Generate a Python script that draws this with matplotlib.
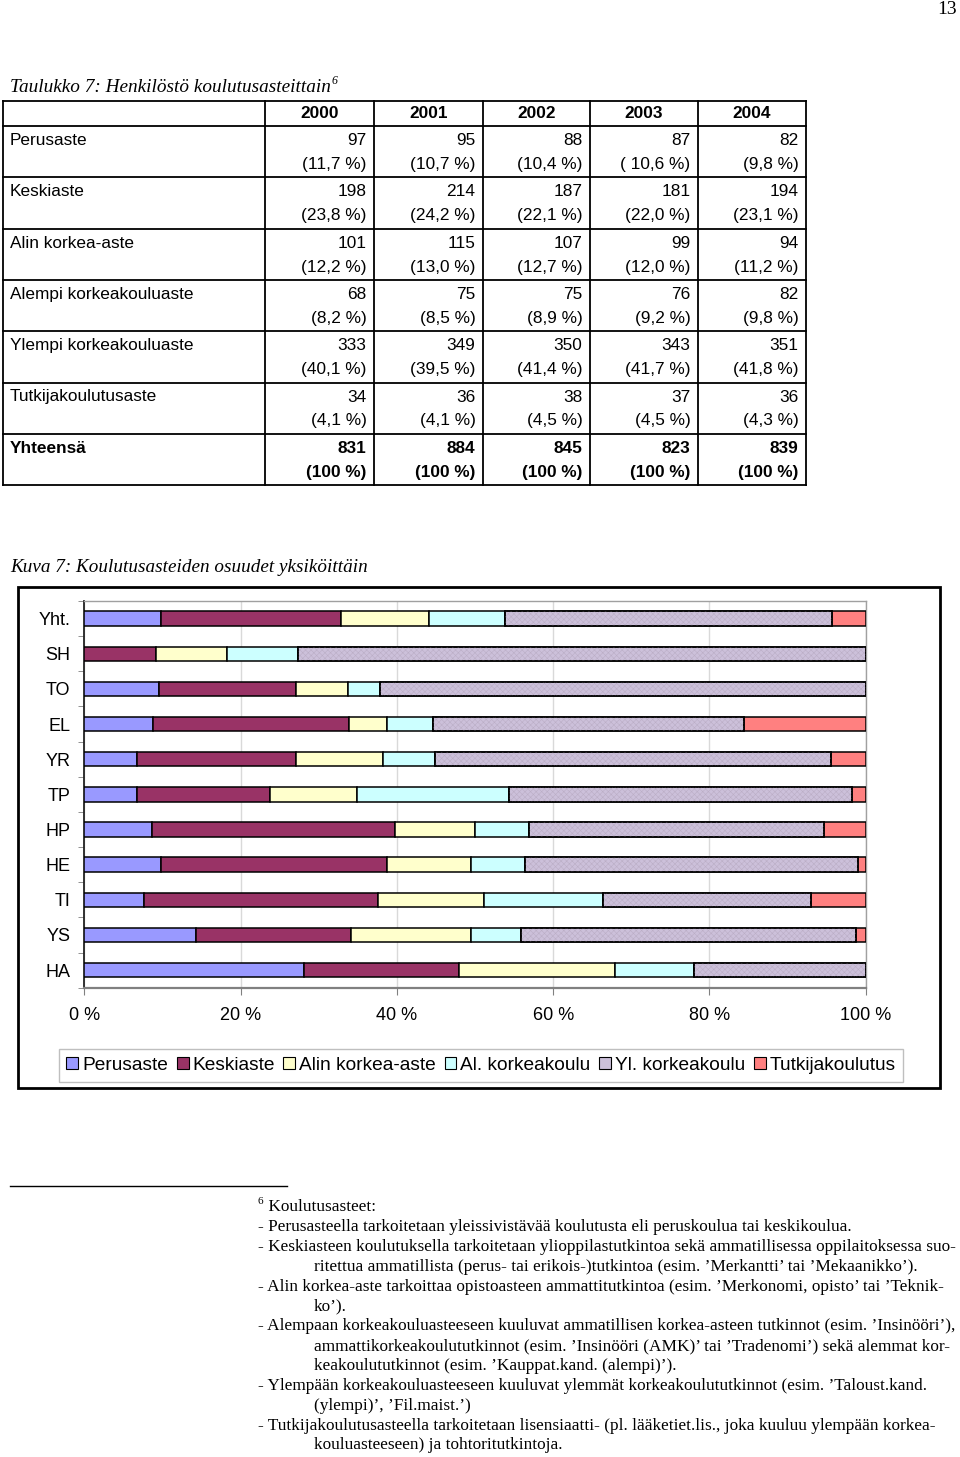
import numpy as np
import matplotlib.pyplot as plt
from matplotlib.patches import Patch, Rectangle

plt.rcParams['font.family'] = ['Liberation Sans', 'DejaVu Sans']
plt.rcParams['hatch.linewidth'] = 0.4

SERIF = ['Liberation Serif', 'DejaVu Serif']

# Taulukko 7
vuodet = ['2000', '2001', '2002', '2003', '2004']
rivit = ['Perusaste', 'Keskiaste', 'Alin korkea-aste', 'Alempi korkeakouluaste',
         'Ylempi korkeakouluaste', 'Tutkijakoulutusaste', 'Yhteensä']
lkm = [[97, 95, 88, 87, 82],
       [198, 214, 187, 181, 194],
       [101, 115, 107, 99, 94],
       [68, 75, 75, 76, 82],
       [333, 349, 350, 343, 351],
       [34, 36, 38, 37, 36],
       [831, 884, 845, 823, 839]]
osuus = [['(11,7 %)', '(10,7 %)', '(10,4 %)', '( 10,6 %)', '(9,8 %)'],
         ['(23,8 %)', '(24,2 %)', '(22,1 %)', '(22,0 %)', '(23,1 %)'],
         ['(12,2 %)', '(13,0 %)', '(12,7 %)', '(12,0 %)', '(11,2 %)'],
         ['(8,2 %)', '(8,5 %)', '(8,9 %)', '(9,2 %)', '(9,8 %)'],
         ['(40,1 %)', '(39,5 %)', '(41,4 %)', '(41,7 %)', '(41,8 %)'],
         ['(4,1 %)', '(4,1 %)', '(4,5 %)', '(4,5 %)', '(4,3 %)'],
         ['(100 %)', '(100 %)', '(100 %)', '(100 %)', '(100 %)']]

# Kuva 7
yksikot = ['Yht.', 'SH', 'TO', 'EL', 'YR', 'TP', 'HP', 'HE', 'TI', 'YS', 'HA']
sarjat = ['Perusaste', 'Keskiaste', 'Alin korkea-aste', 'Al. korkeakoulu',
          'Yl. korkeakoulu', 'Tutkijakoulutus']
perus = [9.8, 0, 9.6, 8.8, 6.8, 6.8, 8.7, 9.8, 7.7, 14.3, 28.1]
kesk = [23.1, 9.2, 17.5, 25.1, 20.3, 17.0, 31.1, 29.0, 29.9, 19.9, 19.8]
alin = [11.2, 9.0, 6.7, 4.8, 11.1, 11.1, 10.2, 10.7, 13.6, 15.3, 20.0]
alkk = [9.8, 9.2, 4.1, 5.9, 6.7, 19.5, 6.9, 6.9, 15.3, 6.5, 10.1]
ylkk = [41.8, 72.6, 62.2, 39.8, 50.5, 43.9, 37.8, 42.7, 26.6, 42.9, 21.9]
tutk = [4.3, 0, 0, 15.5, 4.5, 1.7, 5.3, 1.0, 7.0, 1.2, 0]
varit = ['#9999FF', '#993366', '#FFFFCC', '#CCFFFF', '#CCC0DA', '#FF8080']

alaviite = [
    (258, '- Perusasteella tarkoitetaan yleissivistävää koulutusta eli peruskoulua tai keskikoulua.'),
    (258, '- Keskiasteen koulutuksella tarkoitetaan ylioppilastutkintoa sekä ammatillisessa oppilaitoksessa suo-'),
    (314, 'ritettua ammatillista (perus- tai erikois-)tutkintoa (esim. ’Merkantti’ tai ’Mekaanikko’).'),
    (258, '- Alin korkea-aste tarkoittaa opistoasteen ammattitutkintoa (esim. ’Merkonomi, opisto’ tai ’Teknik-'),
    (314, 'ko’).'),
    (258, '- Alempaan korkeakouluasteeseen kuuluvat ammatillisen korkea-asteen tutkinnot (esim. ’Insinööri’),'),
    (314, 'ammattikorkeakoulututkinnot (esim. ’Insinööri (AMK)’ tai ’Tradenomi’) sekä alemmat kor-'),
    (314, 'keakoulututkinnot (esim. ’Kauppat.kand. (alempi)’).'),
    (258, '- Ylempään korkeakouluasteeseen kuuluvat ylemmät korkeakoulututkinnot (esim. ’Taloust.kand.'),
    (314, '(ylempi)’, ’Fil.maist.’)'),
    (258, '- Tutkijakoulutusasteella tarkoitetaan lisensiaatti- (pl. lääketiet.lis., joka kuuluu ylempään korkea-'),
    (314, 'kouluasteeseen) ja tohtoritutkintoja.'),
]

fig = plt.figure(figsize=(9.6, 14.57), dpi=100)
sivu = fig.add_axes([0, 0, 1, 1])
sivu.set_xlim(0, 960)
sivu.set_ylim(1457, 0)
sivu.axis('off')

sivu.text(957, 10, '13', ha='right', va='center', family=SERIF, fontsize=14)

# taulukko
sivu.text(10, 88, 'Taulukko 7: Henkilöstö koulutusasteittain', family=SERIF,
          style='italic', fontsize=13.9, va='center')
sivu.text(332, 81, '6', family=SERIF, style='italic', fontsize=8.5, va='center')

sx = [3, 265, 374, 483, 590, 698, 806]
sy = [101, 126] + [126 + 51.3 * (i + 1) for i in range(len(rivit))]
for y in sy:
    sivu.plot([sx[0], sx[-1]], [y, y], color='black', lw=1.3)
for x in sx:
    sivu.plot([x, x], [sy[0], sy[-1]], color='black', lw=1.3)

fs = 12.4
for j, v in enumerate(vuodet):
    sivu.text((sx[j + 1] + sx[j + 2]) / 2, 113.5, v, ha='center', va='center',
              fontsize=fs, fontweight='bold')
for i, r in enumerate(rivit):
    top = sy[i + 1]
    paino = 'bold' if r == 'Yhteensä' else 'normal'
    sivu.text(10, top + 14.5, r, va='center', fontsize=fs, fontweight=paino)
    for j in range(len(vuodet)):
        xr = sx[j + 2] - 7.5
        sivu.text(xr, top + 14.5, str(lkm[i][j]), ha='right', va='center',
                  fontsize=fs, fontweight=paino)
        sivu.text(xr, top + 38.5, osuus[i][j], ha='right', va='center',
                  fontsize=fs, fontweight=paino)

# kuva
sivu.text(10, 568, 'Kuva 7: Koulutusasteiden osuudet yksiköittäin', family=SERIF,
          style='italic', fontsize=13.8, va='center')
sivu.add_patch(Rectangle((18, 587), 922, 501, fill=False, lw=2, edgecolor='black'))

ax = fig.add_axes([84.3 / 960, 1 - 987.7 / 1457, (865.7 - 84.3) / 960, (987.7 - 601) / 1457])
ax.set_zorder(2)

arvot = np.array([perus, kesk, alin, alkk, ylkk, tutk], dtype=float)
arvot = arvot / arvot.sum(axis=0) * 100
y = np.arange(len(yksikot))
vasen = np.zeros(len(yksikot))
for i, nimi in enumerate(sarjat):
    ax.barh(y, arvot[i], left=vasen, height=0.41, color=varit[i],
            edgecolor='black', lw=1.1, zorder=3)
    if i == 4:
        ax.barh(y, arvot[i], left=vasen, height=0.41, fill=False,
                edgecolor='#BBAEC6', lw=0, hatch='xxxxxx', zorder=3.5)
        ax.barh(y, arvot[i], left=vasen, height=0.41, fill=False,
                edgecolor='black', lw=1.1, zorder=4)
    vasen += arvot[i]

ax.set_xlim(0, 100)
ax.set_ylim(len(yksikot) - 0.5, -0.5)
ax.set_xticks(np.arange(0, 101, 20))
ax.set_xticklabels([f'{t} %' for t in range(0, 101, 20)])
ax.set_yticks(y)
ax.set_yticklabels(yksikot)
ax.set_yticks(np.arange(-0.5, len(yksikot), 1), minor=True)
ax.tick_params(axis='y', which='major', length=0, pad=10, labelsize=13)
ax.tick_params(axis='y', which='minor', length=4, color='#808080', direction='out')
ax.tick_params(axis='x', length=5, color='#808080', pad=9, labelsize=13)
ax.grid(axis='x', color='#D9D9D9', lw=1, zorder=0)
ax.spines['left'].set_color('#222222')
ax.spines['left'].set_linewidth(1.3)
ax.spines['bottom'].set_color('#808080')
ax.spines['bottom'].set_linewidth(1.6)
for s in ['top', 'right']:
    ax.spines[s].set_color('#A0A0A0')
    ax.spines[s].set_linewidth(1)

kahvat = []
for i, c in enumerate(varit):
    kahvat.append(Patch(facecolor=c, edgecolor='black', lw=0.8))
leg = fig.legend(kahvat, sarjat, loc='center', bbox_to_anchor=(481 / 960, 1 - 1065.5 / 1457),
                 ncol=6, fontsize=13.8, frameon=True, fancybox=False, edgecolor='#B0B0B0',
                 handlelength=0.62, handleheight=0.62, handletextpad=0.2, columnspacing=0.45,
                 borderpad=0.4, borderaxespad=0)
leg.get_frame().set_linewidth(1)

# alaviite
fn = 12.4
sivu.plot([10, 287], [1186, 1186], color='black', lw=1)
sivu.text(258, 1201, '6', family=SERIF, fontsize=8, va='center')
sivu.text(264, 1207, ' Koulutusasteet:', family=SERIF, fontsize=fn, va='center')
for k, (x, rivi) in enumerate(alaviite):
    yy = 1227 + k * 19.85
    sivu.text(x, yy, rivi, family=SERIF, fontsize=fn, va='center')

fig.savefig('out.png', dpi=100)
